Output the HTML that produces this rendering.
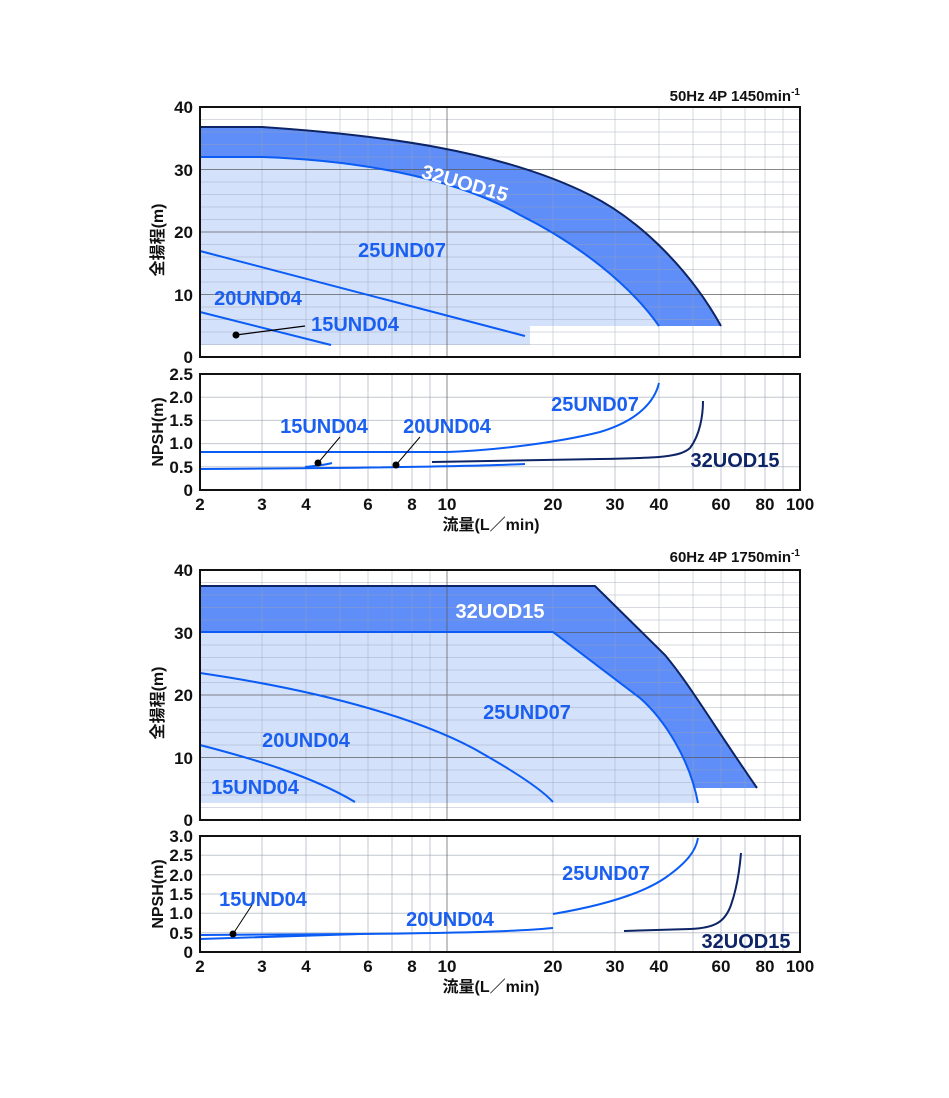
<!DOCTYPE html>
<html><head><meta charset="utf-8"><style>
html,body{margin:0;padding:0;background:#fff;}
svg{display:block;}
text{font-family:"Liberation Sans","Noto Sans CJK JP",sans-serif;font-weight:bold;}
</style></head><body>
<svg width="949" height="1098" viewBox="0 0 949 1098" xmlns="http://www.w3.org/2000/svg">

<!-- ===== CHART 1 HEAD ===== -->
<path d="M200 157 L262 157 C350 160 450 175 520 215 C580 245 630 285 659 326 L721 326 C690 270 640 220 590 195 C500 150 380 135 262 127 L200 127 Z" fill="#5f8ef8"/>
<path d="M200 157 L262 157 C350 160 450 175 520 215 C580 245 630 285 659 326 L530 326 L530 345 L200 345 Z" fill="#d4e1fb"/>
<g stroke="#9aa3b3" stroke-opacity="0.4" stroke-width="1" fill="none">
<path d="M200 344.5H800M200 332H800M200 319.5H800M200 307H800M200 282H800M200 269.5H800M200 257H800M200 244.5H800M200 219.5H800M200 207H800M200 194.5H800M200 182H800M200 157H800M200 144.5H800M200 132H800M200 119.5H800"/>
<path d="M262 107V357M306 107V357M340 107V357M368 107V357M392 107V357M412 107V357M430 107V357M553 107V357M615 107V357M659 107V357M693 107V357M721 107V357M745 107V357M765 107V357M783 107V357"/>
</g>
<g stroke="#555" stroke-opacity="0.7" stroke-width="1" fill="none">
<path d="M200 294.5H800M200 232H800M200 169.5H800M447 107V357"/>
</g>
<path d="M200 127 L262 127 C380 135 500 150 590 195 C640 220 690 270 721 326" fill="none" stroke="#0d2466" stroke-width="2"/>
<path d="M200 157 L262 157 C350 160 450 175 520 215 C580 245 630 285 659 326" fill="none" stroke="#0a5cf5" stroke-width="2"/>
<path d="M200 251 L525 336" stroke="#0a5cf5" stroke-width="2"/>
<path d="M200 312 L331 345" stroke="#0a5cf5" stroke-width="2"/>
<circle cx="236" cy="335" r="3.5" fill="#000"/>
<path d="M236 335 L305 326" stroke="#000" stroke-width="1.2"/>
<rect x="200" y="107" width="600" height="250" fill="none" stroke="#111" stroke-width="2"/>
<text x="465" y="190" font-size="20" fill="#fff" text-anchor="middle" transform="rotate(16 465 183)">32UOD15</text>
<text x="402" y="257" font-size="20" fill="#1a5ff0" text-anchor="middle">25UND07</text>
<text x="258" y="305" font-size="20" fill="#1a5ff0" text-anchor="middle">20UND04</text>
<text x="355" y="331" font-size="20" fill="#1a5ff0" text-anchor="middle">15UND04</text>
<g font-size="17" fill="#111" text-anchor="end">
<text x="193" y="113">40</text><text x="193" y="176">30</text><text x="193" y="238">20</text><text x="193" y="301">10</text><text x="193" y="363">0</text>
</g>
<text x="800" y="101" font-size="15" fill="#111" text-anchor="end">50Hz 4P 1450min<tspan font-size="10" dy="-6">-1</tspan></text>
<text transform="translate(163 240) rotate(-90)" font-size="16" fill="#111" text-anchor="middle">全揚程(m)</text>

<!-- ===== CHART 1 NPSH ===== -->
<g stroke="#9aa3b3" stroke-opacity="0.6" stroke-width="1" fill="none">
<path d="M200 466.8H800M200 443.6H800M200 420.4H800M200 397.2H800"/>
<path d="M262 374V490M306 374V490M340 374V490M368 374V490M392 374V490M412 374V490M430 374V490M553 374V490M615 374V490M659 374V490M693 374V490M721 374V490M745 374V490M765 374V490M783 374V490"/>
</g>
<path d="M447 374V490" stroke="#555" stroke-opacity="0.7"/>
<path d="M200 452 L447 452 C500 450 560 442 600 432 C640 420 655 400 659 383" fill="none" stroke="#0a5cf5" stroke-width="2"/>
<path d="M200 469 L330 468 C420 467 480 466 525 464" fill="none" stroke="#0a5cf5" stroke-width="2"/>
<path d="M305 467 C315 466 325 465 332 463" fill="none" stroke="#0a5cf5" stroke-width="2"/>
<path d="M432 462 L600 459 C660 458 680 457 690 448 C700 435 703 415 703 401" fill="none" stroke="#0d2466" stroke-width="2"/>
<circle cx="318" cy="463" r="3.5" fill="#000"/><path d="M318 463 L340 437" stroke="#000" stroke-width="1"/>
<circle cx="396" cy="465" r="3.5" fill="#000"/><path d="M396 465 L420 437" stroke="#000" stroke-width="1"/>
<rect x="200" y="374" width="600" height="116" fill="none" stroke="#111" stroke-width="2"/>
<text x="595" y="411" font-size="20" fill="#1a5ff0" text-anchor="middle">25UND07</text>
<text x="324" y="433" font-size="20" fill="#1a5ff0" text-anchor="middle">15UND04</text>
<text x="447" y="433" font-size="20" fill="#1a5ff0" text-anchor="middle">20UND04</text>
<text x="735" y="467" font-size="20" fill="#0d2466" text-anchor="middle">32UOD15</text>
<g font-size="17" fill="#111" text-anchor="end">
<text x="193" y="380">2.5</text><text x="193" y="403">2.0</text><text x="193" y="426">1.5</text><text x="193" y="449">1.0</text><text x="193" y="473">0.5</text><text x="193" y="496">0</text>
</g>
<g font-size="17" fill="#111" text-anchor="middle">
<text x="200" y="510">2</text><text x="262" y="510">3</text><text x="306" y="510">4</text><text x="368" y="510">6</text><text x="412" y="510">8</text><text x="447" y="510">10</text><text x="553" y="510">20</text><text x="615" y="510">30</text><text x="659" y="510">40</text><text x="721" y="510">60</text><text x="765" y="510">80</text><text x="800" y="510">100</text>
</g>
<text x="491" y="530" font-size="16" fill="#111" text-anchor="middle">流量(L／min)</text>
<text transform="translate(163 432) rotate(-90)" font-size="16" fill="#111" text-anchor="middle">NPSH(m)</text>

<!-- ===== CHART 2 HEAD ===== -->
<path d="M200 586 L595 586 L665 655 C690 685 710 720 757 788 L690 788 C670 740 660 715 640 698 L553 632 L200 632 Z" fill="#5f8ef8"/>
<path d="M200 632 L553 632 L640 698 C665 720 690 760 698 803 L200 803 Z" fill="#d4e1fb"/>
<g stroke="#9aa3b3" stroke-opacity="0.4" stroke-width="1" fill="none">
<path d="M200 807.5H800M200 795H800M200 782.5H800M200 770H800M200 745H800M200 732.5H800M200 720H800M200 707.5H800M200 682.5H800M200 670H800M200 657.5H800M200 645H800M200 620H800M200 607.5H800M200 595H800M200 582.5H800"/>
<path d="M262 570V820M306 570V820M340 570V820M368 570V820M392 570V820M412 570V820M430 570V820M553 570V820M615 570V820M659 570V820M693 570V820M721 570V820M745 570V820M765 570V820M783 570V820"/>
</g>
<g stroke="#555" stroke-opacity="0.7" stroke-width="1" fill="none">
<path d="M200 757.5H800M200 695H800M200 632.5H800M447 570V820"/>
</g>
<path d="M200 586 L595 586 L665 655 C690 685 710 720 757 788" fill="none" stroke="#0d2466" stroke-width="2"/>
<path d="M200 632 L553 632 L640 698 C665 720 690 760 698 803" fill="none" stroke="#0a5cf5" stroke-width="2"/>
<path d="M200 673 C330 692 430 722 485 755 C520 775 542 790 553 802" fill="none" stroke="#0a5cf5" stroke-width="2"/>
<path d="M200 745 C250 758 310 775 355 802" fill="none" stroke="#0a5cf5" stroke-width="2"/>
<rect x="200" y="570" width="600" height="250" fill="none" stroke="#111" stroke-width="2"/>
<text x="500" y="618" font-size="20" fill="#fff" text-anchor="middle">32UOD15</text>
<text x="527" y="719" font-size="20" fill="#1a5ff0" text-anchor="middle">25UND07</text>
<text x="306" y="747" font-size="20" fill="#1a5ff0" text-anchor="middle">20UND04</text>
<text x="255" y="794" font-size="20" fill="#1a5ff0" text-anchor="middle">15UND04</text>
<g font-size="17" fill="#111" text-anchor="end">
<text x="193" y="576">40</text><text x="193" y="639">30</text><text x="193" y="701">20</text><text x="193" y="764">10</text><text x="193" y="826">0</text>
</g>
<text x="800" y="562" font-size="15" fill="#111" text-anchor="end">60Hz 4P 1750min<tspan font-size="10" dy="-6">-1</tspan></text>
<text transform="translate(163 703) rotate(-90)" font-size="16" fill="#111" text-anchor="middle">全揚程(m)</text>

<!-- ===== CHART 2 NPSH ===== -->
<g stroke="#9aa3b3" stroke-opacity="0.6" stroke-width="1" fill="none">
<path d="M200 932.7H800M200 913.3H800M200 894H800M200 874.7H800M200 855.3H800"/>
<path d="M262 836V952M306 836V952M340 836V952M368 836V952M392 836V952M412 836V952M430 836V952M553 836V952M615 836V952M659 836V952M693 836V952M721 836V952M745 836V952M765 836V952M783 836V952"/>
</g>
<path d="M447 836V952" stroke="#555" stroke-opacity="0.7"/>
<path d="M200 935 L360 934" fill="none" stroke="#0a5cf5" stroke-width="2"/>
<path d="M200 939 C280 937 330 935 360 934 C450 933 510 932 553 928" fill="none" stroke="#0a5cf5" stroke-width="2"/>
<path d="M553 914 C600 906 640 895 665 878 C688 862 696 850 698 838" fill="none" stroke="#0a5cf5" stroke-width="2"/>
<path d="M624 931 L690 929 C715 928 725 922 731 905 C738 885 740 865 741 853" fill="none" stroke="#0d2466" stroke-width="2"/>
<circle cx="233" cy="934" r="3.5" fill="#000"/><path d="M233 934 L252 905" stroke="#000" stroke-width="1"/>
<rect x="200" y="836" width="600" height="116" fill="none" stroke="#111" stroke-width="2"/>
<text x="606" y="880" font-size="20" fill="#1a5ff0" text-anchor="middle">25UND07</text>
<text x="263" y="906" font-size="20" fill="#1a5ff0" text-anchor="middle">15UND04</text>
<text x="450" y="926" font-size="20" fill="#1a5ff0" text-anchor="middle">20UND04</text>
<text x="746" y="948" font-size="20" fill="#0d2466" text-anchor="middle">32UOD15</text>
<g font-size="17" fill="#111" text-anchor="end">
<text x="193" y="842">3.0</text><text x="193" y="861">2.5</text><text x="193" y="881">2.0</text><text x="193" y="900">1.5</text><text x="193" y="919">1.0</text><text x="193" y="939">0.5</text><text x="193" y="958">0</text>
</g>
<g font-size="17" fill="#111" text-anchor="middle">
<text x="200" y="972">2</text><text x="262" y="972">3</text><text x="306" y="972">4</text><text x="368" y="972">6</text><text x="412" y="972">8</text><text x="447" y="972">10</text><text x="553" y="972">20</text><text x="615" y="972">30</text><text x="659" y="972">40</text><text x="721" y="972">60</text><text x="765" y="972">80</text><text x="800" y="972">100</text>
</g>
<text x="491" y="992" font-size="16" fill="#111" text-anchor="middle">流量(L／min)</text>
<text transform="translate(163 894) rotate(-90)" font-size="16" fill="#111" text-anchor="middle">NPSH(m)</text>
</svg>
</body></html>
